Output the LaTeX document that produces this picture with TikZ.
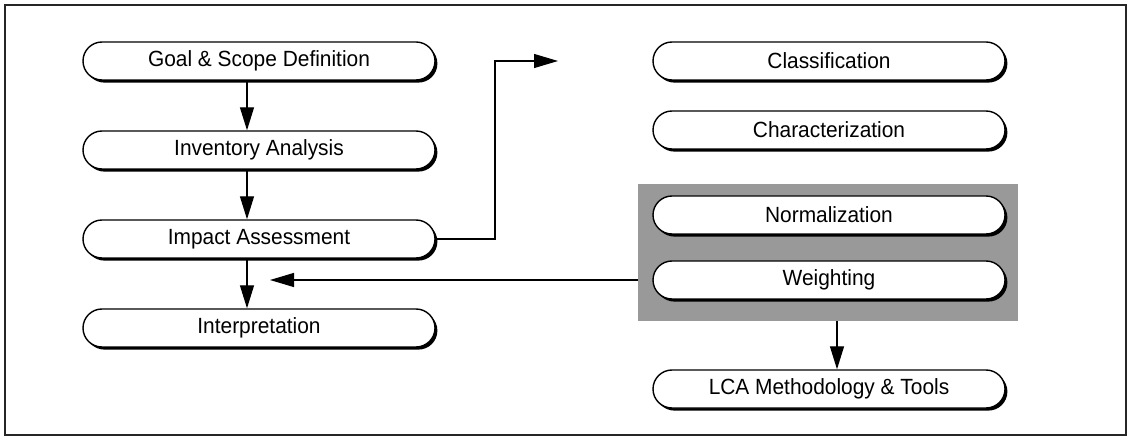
\documentclass[tikz,border=0pt]{standalone}
\usepackage{fontspec}
\setmainfont{Liberation Sans}
\newfontfamily\labelfont[FakeStretch=0.95]{Liberation Sans}
\usetikzlibrary{arrows.meta,shadows,calc}
\begin{document}
\begin{tikzpicture}[x=1pt,y=-1pt,
  stage/.style={draw=black,line width=1.4pt,fill=white,rounded corners=19pt,
    minimum width=352pt,minimum height=38pt,inner sep=0pt,
    font=\labelfont\fontsize{22}{24}\selectfont,
    drop shadow={shadow xshift=2.4pt,shadow yshift=-2.6pt,opacity=1,fill=black}},
  flow/.style={line width=1.3pt,-{Triangle[length=23pt,width=14pt]}},
  link/.style={line width=1.1pt,-{Triangle[length=24pt,width=14pt]}}]
  \useasboundingbox (0,0) rectangle (1130,438);
  \draw[line width=1.4pt,black!85] (5,5) rectangle (1126,435);

  % shaded group behind the last two assessment steps
  \node[fill=black!40,minimum width=380pt,minimum height=137pt,inner sep=0pt] (grp) at (828,252.5) {};

  % left column: the four LCA phases
  \node[stage] (goal) at (259,61)  {Goal \& Scope Definition};
  \node[stage] (inv)  at (259,150) {Inventory Analysis};
  \node[stage] (imp)  at (259,239) {Impact Assessment};
  \node[stage] (int)  at (259,328) {Interpretation};

  % right column: impact assessment elements
  \node[stage] (cls)  at (829,61)  {Classification};
  \node[stage] (chr)  at (829,130) {Characterization};
  \node[stage] (nrm)  at (829,215) {Normalization};
  \node[stage] (wgt)  at (829,280) {Weighting};
  \node[stage] (lca)  at (829,389) {LCA Methodology \& Tools};

  % main flow axis, slightly left of the box centres
  \coordinate (axis) at (247,0);
  \draw[flow] (goal.south -| axis) -- (inv.north -| axis);
  \draw[flow] (inv.south -| axis) -- (imp.north -| axis);
  \draw[flow] (imp.south -| axis) -- (int.north -| axis);

  \coordinate (up)  at (495,61);
  \coordinate (tip) at (558,61);
  \draw[link] (imp.east) -| (up) -- (tip);

  \coordinate (back) at (270,280);
  \draw[link] (grp.west |- back) -- (back);

  \coordinate (drop) at (837,0);
  \draw[flow] (grp.south -| drop) -- (lca.north -| drop);
\end{tikzpicture}
\end{document}
